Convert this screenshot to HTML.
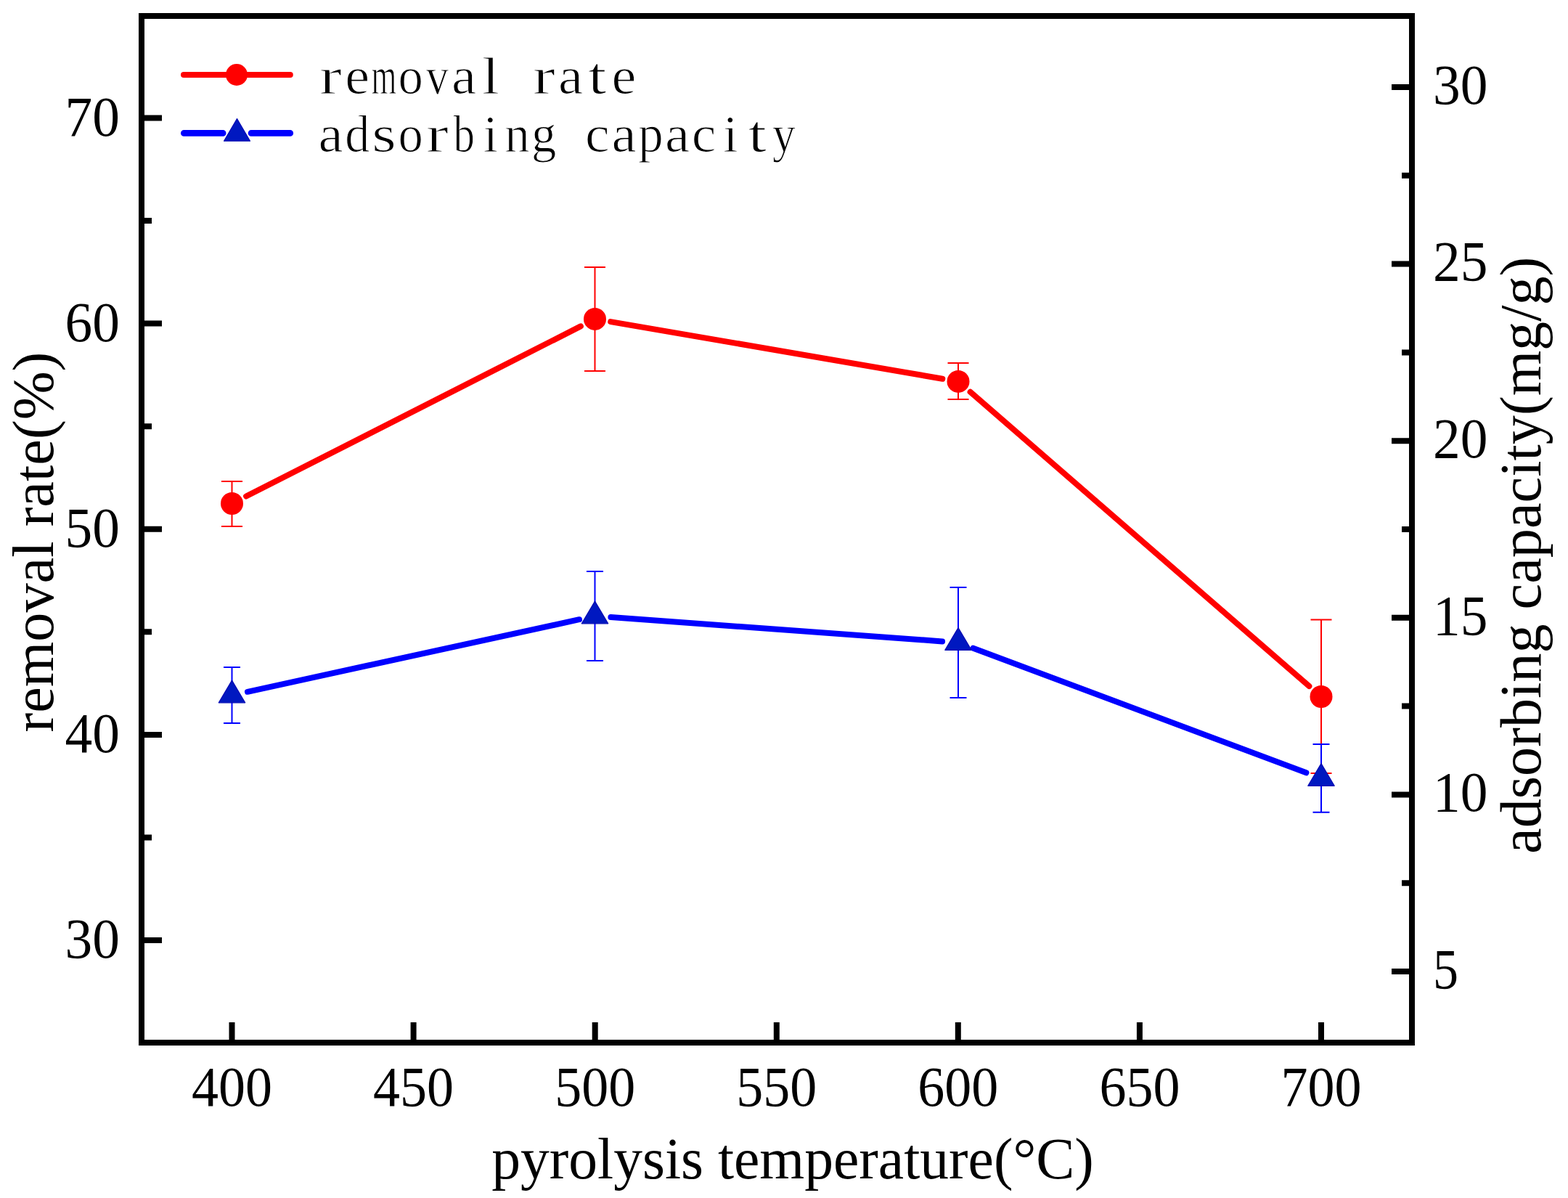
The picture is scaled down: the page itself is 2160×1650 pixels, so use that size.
<!DOCTYPE html>
<html><head><meta charset="utf-8"><title>removal rate and adsorbing capacity vs pyrolysis temperature</title>
<style>html,body{margin:0;padding:0;background:#fff;}svg{display:block;}
text{font-family:"Liberation Serif","Noto Serif CJK SC",serif;fill:#000;}</style></head>
<body>
<svg width="2160" height="1650" viewBox="0 0 2160 1650">
<rect x="0" y="0" width="2160" height="1650" fill="#fff"/>
<rect x="195" y="22" width="1750" height="1414" fill="none" stroke="#000" stroke-width="8"/>
<path d="M199,1295.0H223M199,1011.9H223M199,728.8H223M199,445.6H223M199,162.5H223M199,1153.4H209M199,870.3H209M199,587.2H209M199,304.1H209M1941,1338.0H1917M1941,1094.4H1917M1941,850.8H1917M1941,607.2H1917M1941,363.6H1917M1941,120.0H1917M1941,1216.2H1931M1941,972.6H1931M1941,729.0H1931M1941,485.4H1931M1941,241.8H1931M319.5,1432V1408M569.6,1432V1408M819.7,1432V1408M1069.8,1432V1408M1319.8,1432V1408M1569.9,1432V1408M1820.0,1432V1408" stroke="#000" stroke-width="8" fill="none"/>
<text x="165.0" y="1319.3" font-size="77.5" textLength="75.4" lengthAdjust="spacingAndGlyphs" text-anchor="end">30</text>
<text x="165.0" y="1036.2" font-size="77.5" textLength="75.4" lengthAdjust="spacingAndGlyphs" text-anchor="end">40</text>
<text x="165.0" y="753.0" font-size="77.5" textLength="75.4" lengthAdjust="spacingAndGlyphs" text-anchor="end">50</text>
<text x="165.0" y="469.9" font-size="77.5" textLength="75.4" lengthAdjust="spacingAndGlyphs" text-anchor="end">60</text>
<text x="165.0" y="186.8" font-size="77.5" textLength="75.4" lengthAdjust="spacingAndGlyphs" text-anchor="end">70</text>
<text x="1974.0" y="1360.7" font-size="77.5" textLength="35.0" lengthAdjust="spacingAndGlyphs" text-anchor="start">5</text>
<text x="1974.0" y="1117.1" font-size="77.5" textLength="75.4" lengthAdjust="spacingAndGlyphs" text-anchor="start">10</text>
<text x="1974.0" y="873.5" font-size="77.5" textLength="75.4" lengthAdjust="spacingAndGlyphs" text-anchor="start">15</text>
<text x="1974.0" y="629.9" font-size="77.5" textLength="75.4" lengthAdjust="spacingAndGlyphs" text-anchor="start">20</text>
<text x="1974.0" y="386.3" font-size="77.5" textLength="75.4" lengthAdjust="spacingAndGlyphs" text-anchor="start">25</text>
<text x="1974.0" y="142.7" font-size="77.5" textLength="75.4" lengthAdjust="spacingAndGlyphs" text-anchor="start">30</text>
<text x="319.5" y="1523.0" font-size="77.5" textLength="111.0" lengthAdjust="spacingAndGlyphs" text-anchor="middle">400</text>
<text x="569.6" y="1523.0" font-size="77.5" textLength="111.0" lengthAdjust="spacingAndGlyphs" text-anchor="middle">450</text>
<text x="819.7" y="1523.0" font-size="77.5" textLength="111.0" lengthAdjust="spacingAndGlyphs" text-anchor="middle">500</text>
<text x="1069.8" y="1523.0" font-size="77.5" textLength="111.0" lengthAdjust="spacingAndGlyphs" text-anchor="middle">550</text>
<text x="1319.8" y="1523.0" font-size="77.5" textLength="111.0" lengthAdjust="spacingAndGlyphs" text-anchor="middle">600</text>
<text x="1569.9" y="1523.0" font-size="77.5" textLength="111.0" lengthAdjust="spacingAndGlyphs" text-anchor="middle">650</text>
<text x="1820.0" y="1523.0" font-size="77.5" textLength="111.0" lengthAdjust="spacingAndGlyphs" text-anchor="middle">700</text>
<text x="1092" y="1622.5" font-size="79.6" text-anchor="middle">pyrolysis temperature(°C)</text>
<text transform="translate(73,746.6) rotate(-90)" x="0" y="0" font-size="80.3" text-anchor="middle">removal rate(%)</text>
<text transform="translate(2121.5,764.8) rotate(-90)" x="0" y="0" font-size="80.25" text-anchor="middle">adsorbing capacity(mg/g)</text>
<path d="M339.1,683.5L799.9,449.4M841.2,443.1L1298.3,521.7M1336.6,539.8L1803.4,945.1" stroke="#ff0000" stroke-width="8" stroke-linecap="round" fill="none"/>
<path d="M319.5,662.9V725.0M305.0,662.9H334.0M305.0,725.0H334.0M819.5,368.0V510.9M805.0,368.0H834.0M805.0,510.9H834.0M1320.0,500.0V550.0M1305.5,500.0H1334.5M1305.5,550.0H1334.5M1820.0,853.6V1064.9M1805.5,853.6H1834.5M1805.5,1064.9H1834.5" stroke="#ff0000" stroke-width="2" fill="none"/>
<circle cx="319.5" cy="693.5" r="15.5" fill="#ff0000"/>
<circle cx="819.5" cy="439.4" r="15.5" fill="#ff0000"/>
<circle cx="1320" cy="525.4" r="15.5" fill="#ff0000"/>
<circle cx="1820" cy="959.5" r="15.5" fill="#ff0000"/>
<path d="M341.0,952.8L798.0,853.2M841.4,850.1L1298.1,883.4M1340.6,892.7L1799.4,1064.3" stroke="#0000ff" stroke-width="8" stroke-linecap="round" fill="none"/>
<path d="M319.5,919.0V996.0M308.0,919.0H331.0M308.0,996.0H331.0M819.5,787.0V910.0M808.0,787.0H831.0M808.0,910.0H831.0M1320.0,809.0V961.0M1308.5,809.0H1331.5M1308.5,961.0H1331.5M1820.0,1025.0V1118.7M1808.5,1025.0H1831.5M1808.5,1118.7H1831.5" stroke="#0000ff" stroke-width="2" fill="none"/>
<path d="M319.5,937.1L337.7,967.8L301.3,967.8Z" fill="#0018c0" stroke="#0008b4" stroke-width="1.2" stroke-linejoin="round"/>
<path d="M819.5,828.1L837.7,858.8L801.3,858.8Z" fill="#0018c0" stroke="#0008b4" stroke-width="1.2" stroke-linejoin="round"/>
<path d="M1320.0,864.6L1338.2,895.3L1301.8,895.3Z" fill="#0018c0" stroke="#0008b4" stroke-width="1.2" stroke-linejoin="round"/>
<path d="M1820.0,1051.6L1838.2,1082.3L1801.8,1082.3Z" fill="#0018c0" stroke="#0008b4" stroke-width="1.2" stroke-linejoin="round"/>
<path d="M253,103H399.8" stroke="#ff0000" stroke-width="8" stroke-linecap="round"/>
<circle cx="326" cy="103" r="15" fill="#ff0000"/>
<path d="M253.3,183.4H307.2M346,183.4H399.8" stroke="#0000ff" stroke-width="8.6" stroke-linecap="round"/>
<path d="M326.5,163.5L344.5,194.2L308.5,194.2Z" fill="#0018c0" stroke="#0008b4" stroke-width="1.2" stroke-linejoin="round"/>
<text y="128.8" font-size="71" text-anchor="middle" stroke="#fff" stroke-width="1.1"><tspan x="455.5" textLength="30.8" lengthAdjust="spacingAndGlyphs">r</tspan><tspan x="492.2" textLength="33.9" lengthAdjust="spacingAndGlyphs">e</tspan><tspan x="529.0" textLength="34.8" lengthAdjust="spacingAndGlyphs">m</tspan><tspan x="565.7" textLength="34.3" lengthAdjust="spacingAndGlyphs">o</tspan><tspan x="602.4" textLength="31.0" lengthAdjust="spacingAndGlyphs">v</tspan><tspan x="639.1" textLength="34.2" lengthAdjust="spacingAndGlyphs">a</tspan><tspan x="675.9" textLength="24.4" lengthAdjust="spacingAndGlyphs">l</tspan><tspan x="712.6"> </tspan><tspan x="749.3" textLength="30.8" lengthAdjust="spacingAndGlyphs">r</tspan><tspan x="786.1" textLength="34.2" lengthAdjust="spacingAndGlyphs">a</tspan><tspan x="822.8" textLength="25.5" lengthAdjust="spacingAndGlyphs">t</tspan><tspan x="859.5" textLength="33.9" lengthAdjust="spacingAndGlyphs">e</tspan></text>
<text y="208.6" font-size="71" text-anchor="middle" stroke="#fff" stroke-width="1.1"><tspan x="455.5" textLength="34.2" lengthAdjust="spacingAndGlyphs">a</tspan><tspan x="492.2" textLength="34.1" lengthAdjust="spacingAndGlyphs">d</tspan><tspan x="529.0" textLength="33.5" lengthAdjust="spacingAndGlyphs">s</tspan><tspan x="565.7" textLength="34.3" lengthAdjust="spacingAndGlyphs">o</tspan><tspan x="602.4" textLength="30.8" lengthAdjust="spacingAndGlyphs">r</tspan><tspan x="639.1" textLength="29.4" lengthAdjust="spacingAndGlyphs">b</tspan><tspan x="675.9" textLength="20.7" lengthAdjust="spacingAndGlyphs">i</tspan><tspan x="712.6" textLength="34.5" lengthAdjust="spacingAndGlyphs">n</tspan><tspan x="749.3" textLength="34.4" lengthAdjust="spacingAndGlyphs">g</tspan><tspan x="786.1"> </tspan><tspan x="822.8" textLength="33.7" lengthAdjust="spacingAndGlyphs">c</tspan><tspan x="859.5" textLength="34.2" lengthAdjust="spacingAndGlyphs">a</tspan><tspan x="896.3" textLength="34.7" lengthAdjust="spacingAndGlyphs">p</tspan><tspan x="933.0" textLength="34.2" lengthAdjust="spacingAndGlyphs">a</tspan><tspan x="969.7" textLength="33.7" lengthAdjust="spacingAndGlyphs">c</tspan><tspan x="1006.4" textLength="20.7" lengthAdjust="spacingAndGlyphs">i</tspan><tspan x="1043.2" textLength="25.5" lengthAdjust="spacingAndGlyphs">t</tspan><tspan x="1079.9" textLength="31.9" lengthAdjust="spacingAndGlyphs">y</tspan></text>
</svg></body></html>
